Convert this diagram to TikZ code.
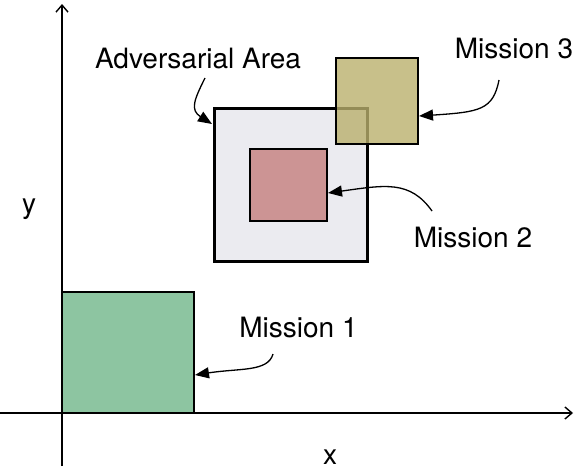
\documentclass[tikz,border=0pt]{standalone}
\usepackage{fontspec}
\setmainfont{TeX Gyre Heros}
\usetikzlibrary{arrows.meta}
\definecolor{greenfill}{HTML}{8DC5A1}
\definecolor{advfill}{HTML}{EBEBF0}
\definecolor{pinkfill}{HTML}{CC9494}
\definecolor{olivefill}{HTML}{BAB06D}
\tikzset{
  region/.style={draw=black, line width=1.3pt, inner sep=0pt, outer sep=0pt},
  axis/.style={line width=1.4pt, -{Straight Barb[length=7pt,width=12pt,line width=1.4pt]}},
  pointer/.style={line width=1.3pt, -{Triangle[length=14pt,width=11pt]}},
  lbl/.style={font=\fontsize{28}{32}\selectfont, inner sep=0pt, anchor=base},
}
\begin{document}
\begin{tikzpicture}[x=1pt,y=-1pt]
\useasboundingbox (0,0) rectangle (575,474);
% axes
\coordinate (yfrom) at (62,466);
\coordinate (yto) at (62,4);
\coordinate (xfrom) at (0,413);
\coordinate (xto) at (573,413);
\draw[axis] (yfrom) -- (yto);
\draw[axis] (xfrom) -- (xto);
\node[lbl] (ylab) at (29,213) {y};
\node[lbl] (xlab) at (330,464) {x};
% regions
\node[region, fill=greenfill, minimum width=132pt, minimum height=121pt] (m1) at (128,352.5) {};
\node[region, fill=advfill, line width=3pt, minimum width=153pt, minimum height=153pt] (adv) at (290.5,184.5) {};
\node[region, fill=pinkfill, minimum width=77pt, minimum height=72pt] (m2) at (288.5,185) {};
\node[region, fill=olivefill, fill opacity=0.8, minimum width=82pt, minimum height=86pt] (m3) at (377,101) {};
% labels
\node[lbl] (advlab) at (198,68) {Adversarial Area};
\node[lbl] (m3lab) at (514,58) {Mission 3};
\node[lbl] (m2lab) at (473,247) {Mission 2};
\node[lbl] (m1lab) at (298.5,337) {Mission 1};
% pointer end points
\coordinate (advs) at (205,78);
\coordinate (advt) at (212,124);
\coordinate (m3s) at (499,80);
\coordinate (m3t) at (419,116);
\coordinate (m2s) at (432,211);
\coordinate (m2t) at (328,193);
\coordinate (m1s) at (273,354);
\coordinate (m1t) at (195,375);
% pointers from labels to regions
\draw[pointer] (advs) .. controls (194,100) and (190,110) .. (advt);
\draw[pointer] (m3s) .. controls (493,110) and (480,112) .. (m3t);
\draw[pointer] (m2s) .. controls (410,180) and (385,185) .. (m2t);
\draw[pointer] (m1s) .. controls (268,372) and (240,368) .. (m1t);
\end{tikzpicture}
\end{document}
